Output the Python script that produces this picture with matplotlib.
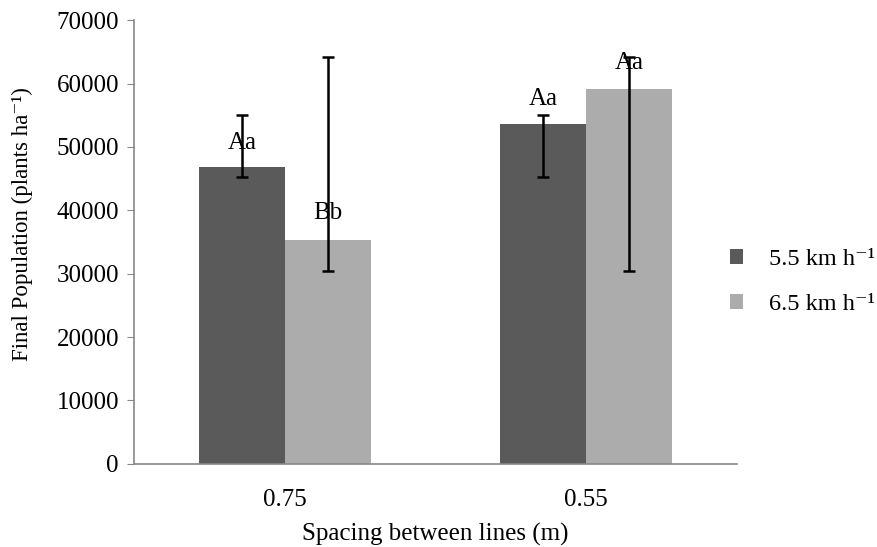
import numpy as np
import matplotlib
matplotlib.use("Agg")
import matplotlib.pyplot as plt

plt.rcParams['font.family'] = ['Liberation Serif', 'DejaVu Serif']

spacing = ["0.75", "0.55"]
speeds = ["5.5 km h⁻¹", "6.5 km h⁻¹"]
pop_55 = [46800, 53700]
pop_65 = [35300, 59100]
err_55_lo = [45200, 45200]
err_55_hi = [55000, 55100]
err_65_lo = [30500, 30500]
err_65_hi = [64200, 64200]
letters_55 = ["Aa", "Aa"]
letters_65 = ["Bb", "Aa"]
letter_y_55 = [50700, 57600]
letter_y_65 = [39600, 63200]

fig = plt.figure(figsize=(8.77, 5.47), dpi=100)
ax = fig.add_axes([0.153, 0.152, 0.687, 0.811])

x = np.arange(len(spacing))
w = 0.285
dark, light = "#5a5a5a", "#acacac"
fs = 18

ax.bar(x - w/2, pop_55, w, color=dark, label=speeds[0])
ax.bar(x + w/2, pop_65, w, color=light, label=speeds[1])

for xs, lo, hi in [(x - w/2, err_55_lo, err_55_hi), (x + w/2, err_65_lo, err_65_hi)]:
    mid = (np.array(lo) + np.array(hi)) / 2
    half = (np.array(hi) - np.array(lo)) / 2
    ax.errorbar(xs, mid, yerr=half, fmt='none', ecolor='black',
                elinewidth=1.8, capsize=4, capthick=1.8)

for xs, labs, ys in [(x - w/2, letters_55, letter_y_55), (x + w/2, letters_65, letter_y_65)]:
    for xi, lab, yi in zip(xs, labs, ys):
        ax.text(xi, yi, lab, ha='center', va='center', fontsize=fs)

ax.set_xlim(-0.5, 1.5)
ax.set_ylim(0, 70000)
ax.set_yticks(range(0, 70001, 10000))
ax.set_xticks(x)
ax.set_xticklabels(spacing)
ax.tick_params(axis='y', labelsize=fs, color='#888888', length=5, pad=6)
ax.tick_params(axis='x', labelsize=fs, length=0, pad=18)
for s in ['top', 'right']:
    ax.spines[s].set_visible(False)
for s in ['left', 'bottom']:
    ax.spines[s].set_color('#888888')
    ax.spines[s].set_linewidth(1.2)

ax.set_ylabel("Final Population (plants ha⁻¹)", fontsize=16.5)
ax.yaxis.set_label_coords(-0.1675, 0.54)
ax.set_xlabel("Spacing between lines (m)", fontsize=fs)
ax.xaxis.set_label_coords(0.5, -0.132)

ax.legend(loc='center left', bbox_to_anchor=(0.832, 0.484),
          bbox_transform=fig.transFigure, frameon=False, borderaxespad=0,
          borderpad=0, fontsize=17.5, handlelength=0.55, handleheight=0.55,
          labelspacing=0.98, handletextpad=1.05)

fig.savefig("out.png", dpi=100)
